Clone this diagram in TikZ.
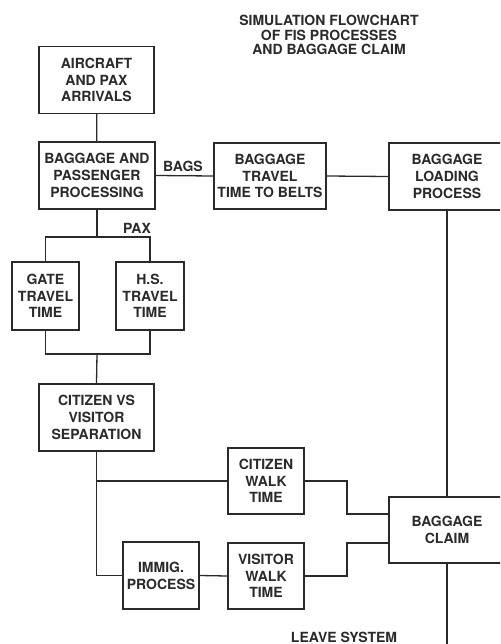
\documentclass[tikz,border=0pt]{standalone}
\usepackage{fontspec}
\setmainfont{TeX Gyre Heros}
\definecolor{ink}{HTML}{2A2A2A}
\begin{document}
\begin{tikzpicture}[x=1pt,y=-1pt,
  box/.style={draw=ink, line width=1.3pt, fill=white, align=center, inner sep=0pt,
    font=\bfseries\fontsize{14}{16.8}\selectfont, text=ink},
  wire/.style={draw=ink, line width=1.3pt},
  lbl/.style={font=\bfseries\fontsize{14}{16.8}\selectfont, text=ink, inner sep=0pt}]
\useasboundingbox (0,0) rectangle (500,644);
\clip (0,0) rectangle (500,644);

% title
\node[lbl, align=center, font=\bfseries\fontsize{14}{14.5}\selectfont] (title) at (329,35)
  {SIMULATION FLOWCHART\\OF FIS PROCESSES\\AND BAGGAGE CLAIM};

% process boxes
\node[box, minimum width=115, minimum height=67] (air) at (96.5,80) {AIRCRAFT\\AND PAX\\ARRIVALS};
\node[box, minimum width=116, minimum height=67] (bp) at (97,175.5) {BAGGAGE AND\\PASSENGER\\PROCESSING};
\node[box, minimum width=112, minimum height=66] (btt) at (270,176) {BAGGAGE\\TRAVEL\\TIME TO BELTS};
\node[box, minimum width=116, minimum height=67] (blp) at (447,176.5) {BAGGAGE\\LOADING\\PROCESS};
\node[box, minimum width=67, minimum height=68] (gate) at (45.5,296) {GATE\\TRAVEL\\TIME};
\node[box, minimum width=68, minimum height=68] (hs) at (150,296) {H.S.\\TRAVEL\\TIME};
\node[box, minimum width=115, minimum height=67] (cvs) at (96.5,417.5) {CITIZEN VS\\VISITOR\\SEPARATION};
\node[box, minimum width=76, minimum height=66] (cwt) at (266,481) {CITIZEN\\WALK\\TIME};
\node[box, minimum width=76, minimum height=67] (imm) at (161,575.5) {IMMIG.\\PROCESS};
\node[box, minimum width=76, minimum height=66] (vwt) at (266,576) {VISITOR\\WALK\\TIME};
\node[box, minimum width=116, minimum height=66] (bc) at (447,530) {BAGGAGE\\CLAIM};

% junction points
\coordinate (paxsplit) at (97,237);
\coordinate (join) at (97,354);
\coordinate (cm) at (347,514);
\coordinate (vm) at (347,543);
\coordinate (exit) at (447,644);

% connectors
\draw[wire] (air) -- (bp);
\draw[wire] (bp.east) -- (btt.west);
\draw[wire] (btt.east) -- (blp.west);
\draw[wire] (blp.south) -- (bc.north);
\draw[wire] (bp.south) -- (paxsplit);
\draw[wire] (gate.north) |- (paxsplit) -| (hs.north);
\draw[wire] (gate.south) |- (join) -| (hs.south);
\draw[wire] (join) -- (cvs.north);
\draw[wire] (cvs.south) |- (imm.west);
\draw[wire] (cvs.south |- cwt.west) -- (cwt.west);
\draw[wire] (imm.east) -- (vwt.west);
\draw[wire] (cwt.east) -| (cm) -- (cm -| bc.west);
\draw[wire] (vwt.east) -| (vm) -- (vm -| bc.west);
\draw[wire] (bc.south) -- (exit);

% labels
\node[lbl] (bags) at (183,166) {BAGS};
\node[lbl] (pax) at (137,228) {PAX};
\node[lbl] (leave) at (344,637) {LEAVE SYSTEM};
\end{tikzpicture}
\end{document}
